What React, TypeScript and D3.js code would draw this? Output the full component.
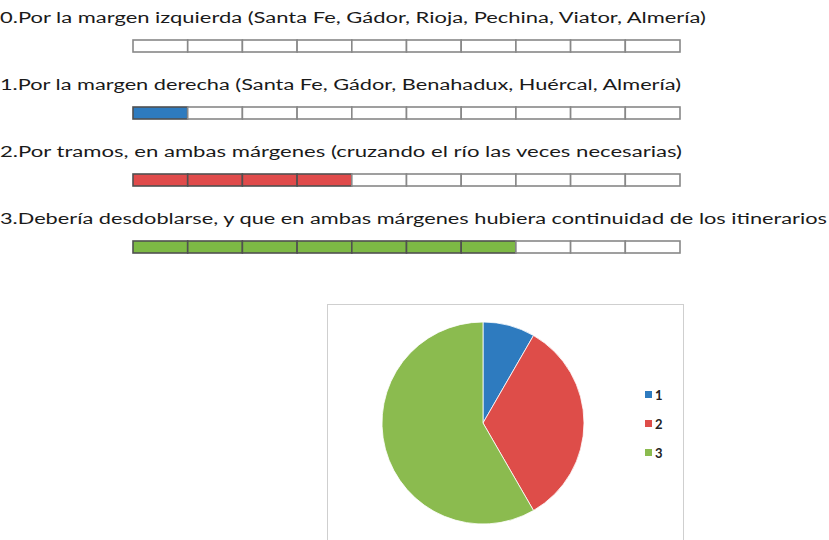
import React from "react";
import * as d3 from "d3";

// survey options and how many cells each one got (out of 10)
const optionLabels = [
  "0.Por la margen izquierda (Santa Fe, Gádor, Rioja, Pechina, Viator, Almería)",
  "1.Por la margen derecha (Santa Fe, Gádor, Benahadux, Huércal, Almería)",
  "2.Por tramos, en ambas márgenes (cruzando el río las veces necesarias)",
  "3.Debería desdoblarse, y que en ambas márgenes hubiera continuidad de los itinerarios",
];
const optionVotes = [0, 1, 4, 7];
const optionColors = ["#2e7bbf", "#2e7bbf", "#e04b4b", "#7db945"];
const labelWidths = [706, 681, 682, 827];
const cells = d3.range(10);

// pie legend
const pieKeys = ["1", "2", "3"];
const pieValues = [1, 4, 7];
const pieColors = ["#2e7bbf", "#de4d49", "#8bbb4f"];

const W = 829;
const H = 540;

function App() {
  const xCell = d3.scaleBand<number>().domain(cells).range([133, 680]).padding(0);
  const yRow = d3.scaleLinear().domain([0, 3]).range([23, 224]);

  const cx = 483;
  const cy = 423;
  const r = 101;
  const pie = d3
    .pie<number>()
    .sort(null)
    .value((d) => d);
  const arcs = pie(pieValues);
  const arc = d3.arc<d3.PieArcDatum<number>>().innerRadius(0).outerRadius(r);

  const yLegend = d3.scalePoint<string>().domain(pieKeys).range([395, 453]);

  return (
    <svg
      width={W}
      height={H}
      style={{ position: "absolute", left: 0, top: 0, background: "#fff" }}
      fontFamily="Lato, 'Open Sans', sans-serif"
    >
      {optionLabels.map((lab, i) => {
        const base = yRow(i);
        return (
          <g key={i}>
            <text
              x={0}
              y={base}
              fontSize={15.5}
              fill="#1a1a1a"
              textLength={labelWidths[i]}
              lengthAdjust="spacingAndGlyphs"
            >
              {lab}
            </text>
            {cells.map((c) => {
              const filled = c < optionVotes[i];
              return (
                <rect
                  key={c}
                  x={xCell(c)}
                  y={base + 17}
                  width={xCell.bandwidth()}
                  height={12}
                  fill={filled ? optionColors[i] : "#fff"}
                  stroke={filled ? "#505050" : "#888"}
                  strokeWidth={1.6}
                />
              );
            })}
          </g>
        );
      })}

      <rect x={327.5} y={304.5} width={356} height={250} fill="#fff" stroke="#cfcfcf" strokeWidth={1} />
      <g transform={`translate(${cx},${cy})`}>
        {arcs.map((a, i) => (
          <path key={i} d={arc(a) || ""} fill={pieColors[i]} stroke="#fff" strokeWidth={0.8} />
        ))}
      </g>
      {pieKeys.map((k, i) => (
        <g key={k}>
          <rect x={645} y={(yLegend(k) as number) - 4} width={7} height={7} fill={pieColors[i]} />
          <text
            x={655}
            y={(yLegend(k) as number) + 4.5}
            fontSize={13}
            fontWeight="bold"
            fill="#222"
          >
            {k}
          </text>
        </g>
      ))}
    </svg>
  );
}

export default App;
